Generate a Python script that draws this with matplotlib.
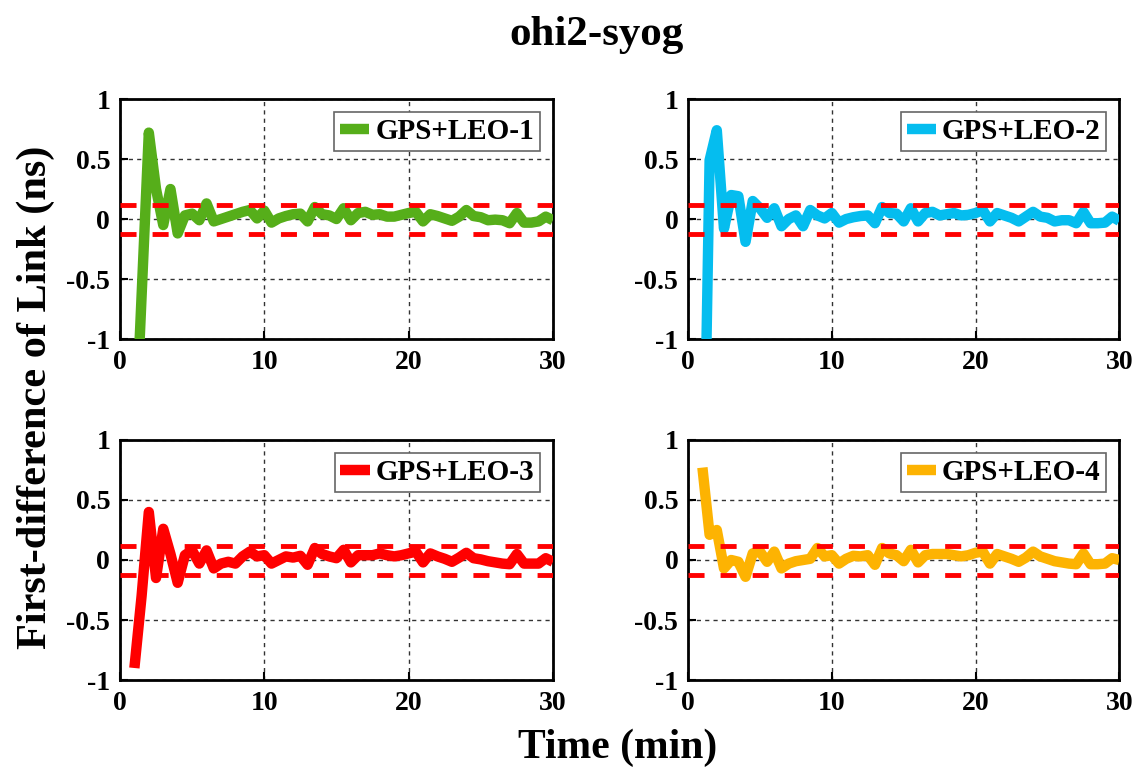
import numpy as np
import matplotlib.pyplot as plt

# Time axis (min), 30 s epochs
t = np.arange(1.0, 30.01, 0.5)

leo1 = [-2.0, -0.64, 0.72, 0.25, -0.05, 0.25, -0.12, 0.03, 0.045, -0.01,
        0.13, -0.02, 0.0, 0.02, 0.04, 0.06, 0.075, 0.005, 0.07, -0.03,
        0.005, 0.025, 0.04, 0.045, -0.02, 0.1, 0.04, 0.03, 0.0, 0.09,
        -0.01, 0.05, 0.06, 0.035, 0.04, 0.02, 0.02, 0.035, 0.05, 0.06,
        -0.02, 0.04, 0.025, 0.005, -0.015, 0.02, 0.075, 0.025, 0.015, -0.01,
        -0.005, -0.01, -0.035, 0.05, -0.03, -0.03, -0.02, 0.02, -0.01]

leo2 = [-3.0, 0.49, 0.74, -0.08, 0.2, 0.19, -0.19, 0.15, 0.09, 0.01,
        0.09, -0.06, 0.0, 0.03, -0.06, 0.075, 0.03, 0.005, 0.05, -0.03,
        0.0, 0.015, 0.025, 0.03, -0.035, 0.1, 0.05, 0.045, -0.02, 0.09,
        -0.02, 0.05, 0.06, 0.03, 0.04, 0.05, 0.03, 0.035, 0.05, 0.075,
        -0.02, 0.05, 0.03, 0.01, -0.02, 0.02, 0.06, 0.02, 0.01, -0.02,
        -0.01, -0.01, -0.035, 0.06, -0.035, -0.035, -0.03, 0.02, -0.015]

leo3 = [-0.9, -0.3, 0.4, -0.15, 0.26, 0.05, -0.19, 0.04, 0.08, -0.03,
        0.08, -0.07, -0.03, -0.015, -0.03, 0.03, 0.07, 0.03, 0.04, -0.03,
        0.0, 0.03, 0.02, 0.035, -0.04, 0.1, 0.05, 0.03, 0.015, 0.085,
        -0.02, 0.04, 0.04, 0.04, 0.055, 0.04, 0.03, 0.04, 0.055, 0.07,
        -0.02, 0.055, 0.03, 0.01, -0.015, 0.02, 0.06, 0.015, 0.005, -0.01,
        -0.02, -0.03, -0.035, 0.05, -0.03, -0.03, -0.03, 0.015, -0.015]

leo4 = [0.77, 0.21, 0.25, -0.07, 0.0, -0.015, -0.14, 0.055, 0.07, -0.015,
        0.07, -0.07, -0.03, -0.01, 0.0, 0.01, 0.1, 0.03, 0.04, -0.03,
        0.01, 0.035, 0.03, 0.04, -0.04, 0.1, 0.055, 0.04, -0.01, 0.085,
        -0.02, 0.04, 0.05, 0.05, 0.05, 0.04, 0.03, 0.04, 0.06, 0.07,
        -0.03, 0.05, 0.03, 0.01, -0.015, 0.02, 0.07, 0.03, 0.01, -0.01,
        -0.02, -0.03, -0.035, 0.055, -0.035, -0.035, -0.03, 0.015, 0.0]

series = [leo1, leo2, leo3, leo4]
labels = ['GPS+LEO-1', 'GPS+LEO-2', 'GPS+LEO-3', 'GPS+LEO-4']
colors = ['#56AE1A', '#05BDEF', '#FF0000', '#FDB302']

# threshold lines (ns)
upper_thr = 0.116
lower_thr = -0.127

plt.rcParams['font.family'] = ['Liberation Serif', 'DejaVu Serif']
plt.rcParams['font.weight'] = 'bold'

fig = plt.figure(figsize=(11.38, 7.73), dpi=100)

# axes boxes [left, bottom, width, height]
boxes = [[0.1054, 0.5614, 0.3805, 0.3105],
         [0.6046, 0.5614, 0.3790, 0.3105],
         [0.1054, 0.1203, 0.3805, 0.3105],
         [0.6046, 0.1203, 0.3790, 0.3105]]

for box, y, lab, col in zip(boxes, series, labels, colors):
    ax = fig.add_axes(box)
    ax.plot(t, y, color=col, linewidth=7.5, label=lab, solid_joinstyle='round',
            solid_capstyle='butt', zorder=3)
    ax.axhline(upper_thr, color='#FF0000', linewidth=3.5,
               linestyle=(0, (3.3, 3.3)), zorder=4)
    ax.axhline(lower_thr, color='#FF0000', linewidth=3.5,
               linestyle=(0, (3.3, 3.3)), zorder=4)
    ax.set_xlim(0, 30)
    ax.set_ylim(-1, 1)
    ax.set_xticks([0, 10, 20, 30])
    ax.set_yticks([-1, -0.5, 0, 0.5, 1])
    ax.set_yticklabels(['-1', '-0.5', '0', '0.5', '1'])
    ax.grid(True, color='0.2', linestyle=(0, (3, 3)), linewidth=1)
    ax.tick_params(direction='in', length=6, width=1.5, labelsize=20,
                   top=False, right=False)
    ax.tick_params(axis='x', pad=8)
    ax.tick_params(axis='y', pad=7)
    for s in ax.spines.values():
        s.set_linewidth(2)
    leg = ax.legend(loc='upper right', fontsize=21, handlelength=1.0,
                    handletextpad=0.2, borderpad=0.2, borderaxespad=0.45,
                    fancybox=False, edgecolor='0.4', framealpha=1)
    leg.get_frame().set_linewidth(1.2)

fig.text(0.524, 0.955, 'ohi2-syog', ha='center', va='center',
         fontsize=31, fontweight='bold')
fig.text(0.543, 0.032, 'Time (min)', ha='center', va='center',
         fontsize=30, fontweight='bold')
fig.text(0.031, 0.486, 'First-difference of Link (ns)', ha='center',
         va='center', rotation=90, fontsize=30.5, fontweight='bold')

plt.savefig('out.png', dpi=100)
